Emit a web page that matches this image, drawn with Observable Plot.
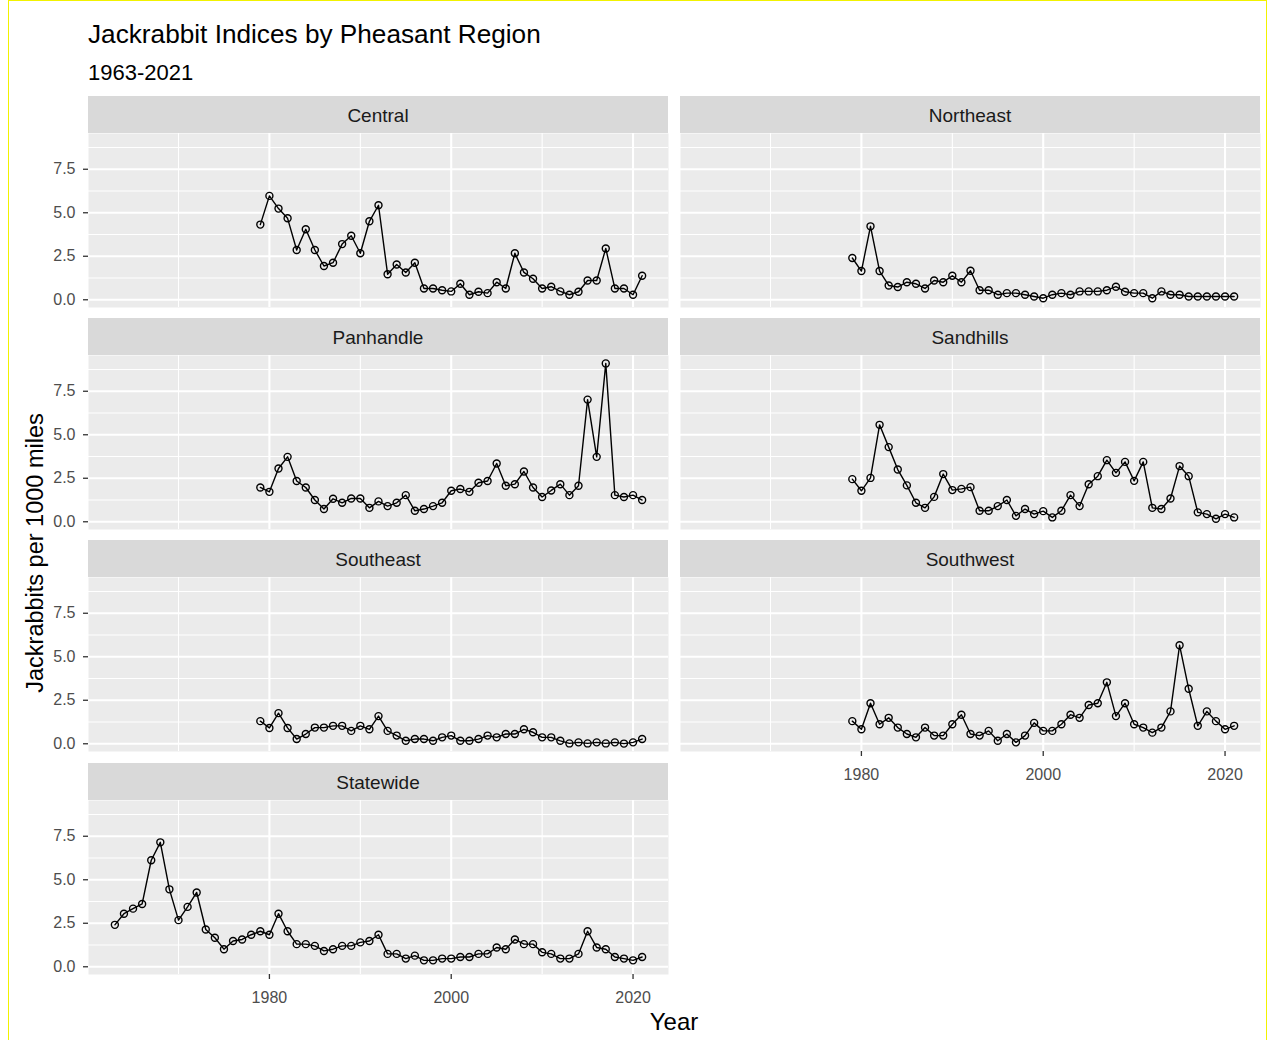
<!DOCTYPE html>
<html>
<head>
<meta charset="utf-8">
<script src="https://cdn.jsdelivr.net/npm/d3@7"></script>
<script src="https://cdn.jsdelivr.net/npm/@observablehq/plot@0.6"></script>
<style>
  body { margin: 0; background: #fff; font-family: "Liberation Sans", Arial, Helvetica, sans-serif; }
  #page { position: relative; width: 1270px; height: 1040px; overflow: hidden; }
  #border { position: absolute; left: 8px; top: 0; width: 1259px; height: 1045px; border: 1px solid #f2f200; box-sizing: border-box; }
  .title { position: absolute; left: 88px; top: 19px; font-size: 26.2px; color: #000; white-space: nowrap; }
  .subtitle { position: absolute; left: 88px; top: 60px; font-size: 22px; color: #000; white-space: nowrap; }
  .strip { position: absolute; background: #D9D9D9; color: #1A1A1A; font-size: 19px; display: flex; align-items: center; justify-content: center; padding-top: 3px; box-sizing: border-box; }
  .ytitle { position: absolute; left: 35px; font-size: 23.5px; color: #000; white-space: nowrap; transform: translate(-50%, -50%) rotate(-90deg); }
  .xtitle { position: absolute; top: 1008px; font-size: 24px; color: #000; white-space: nowrap; transform: translateX(-50%); }
  svg.panel { position: absolute; overflow: visible; }
</style>
</head>
<body>
<div id="page">
  <div id="border"></div>
  <div class="title">Jackrabbit Indices by Pheasant Region</div>
  <div class="subtitle">1963-2021</div>
</div>
<script>
// Jackrabbits seen per 1000 miles of survey route, by pheasant region.
const regionStart = 1979, regionEnd = 2021;
const stateStart = 1963, stateEnd = 2021;

const central = [4.32, 5.97, 5.24, 4.68, 2.86, 4.05, 2.86, 1.94, 2.13, 3.2, 3.68, 2.67, 4.51, 5.43, 1.47,
  2.03, 1.57, 2.13, 0.65, 0.65, 0.55, 0.48, 0.92, 0.29, 0.46, 0.38, 1.01, 0.65, 2.67, 1.57, 1.21,
  0.65, 0.75, 0.48, 0.29, 0.46, 1.11, 1.11, 2.95, 0.65, 0.65, 0.29, 1.38];
const northeast = [2.4, 1.65, 4.22, 1.65, 0.82, 0.73, 1.01, 0.92, 0.65, 1.11, 1.01, 1.38, 1.01, 1.67, 0.55,
  0.55, 0.29, 0.38, 0.38, 0.29, 0.19, 0.09, 0.29, 0.38, 0.29, 0.48, 0.48, 0.48, 0.55, 0.75, 0.46,
  0.38, 0.38, 0.09, 0.48, 0.29, 0.29, 0.19, 0.19, 0.19, 0.19, 0.19, 0.19];
const panhandle = [1.97, 1.72, 3.06, 3.73, 2.34, 1.97, 1.25, 0.73, 1.32, 1.09, 1.34, 1.34, 0.8, 1.17, 0.9,
  1.09, 1.53, 0.63, 0.73, 0.9, 1.09, 1.78, 1.88, 1.72, 2.24, 2.34, 3.35, 2.07, 2.16, 2.89, 1.97,
  1.42, 1.8, 2.16, 1.53, 2.07, 7.02, 3.73, 9.1, 1.53, 1.42, 1.53, 1.25];
const sandhills = [2.45, 1.78, 2.52, 5.57, 4.29, 3.0, 2.09, 1.09, 0.8, 1.43, 2.74, 1.82, 1.89, 1.99, 0.63,
  0.63, 0.9, 1.25, 0.34, 0.73, 0.44, 0.61, 0.25, 0.63, 1.53, 0.9, 2.16, 2.62, 3.54, 2.81, 3.44,
  2.35, 3.44, 0.8, 0.73, 1.34, 3.2, 2.62, 0.54, 0.44, 0.17, 0.44, 0.25];
const southeast = [1.3, 0.91, 1.76, 0.91, 0.27, 0.56, 0.93, 0.93, 1.03, 1.03, 0.74, 1.03, 0.83, 1.59, 0.74,
  0.47, 0.17, 0.27, 0.27, 0.17, 0.37, 0.47, 0.17, 0.17, 0.27, 0.47, 0.37, 0.56, 0.56, 0.83, 0.66,
  0.37, 0.37, 0.17, 0.02, 0.08, 0.02, 0.08, 0.02, 0.08, 0.01, 0.08, 0.27];
const southwest = [1.3, 0.83, 2.33, 1.12, 1.49, 0.93, 0.56, 0.37, 0.93, 0.47, 0.47, 1.12, 1.67, 0.56, 0.47,
  0.74, 0.17, 0.56, 0.08, 0.47, 1.2, 0.74, 0.74, 1.12, 1.67, 1.49, 2.23, 2.33, 3.53, 1.59, 2.33,
  1.12, 0.93, 0.64, 0.93, 1.86, 5.66, 3.16, 1.03, 1.86, 1.3, 0.83, 1.03];
const statewide = [2.41, 3.05, 3.34, 3.61, 6.12, 7.15, 4.45, 2.68, 3.44, 4.27, 2.14, 1.67, 1.01, 1.48, 1.57, 1.84,
  2.04, 1.84, 3.05, 2.04, 1.3, 1.3, 1.2, 0.91, 1.01, 1.2, 1.2, 1.4, 1.48, 1.84, 0.74,
  0.74, 0.47, 0.64, 0.37, 0.37, 0.47, 0.47, 0.56, 0.56, 0.74, 0.74, 1.11, 1.01, 1.57, 1.3, 1.3,
  0.83, 0.74, 0.47, 0.47, 0.74, 2.04, 1.11, 1.01, 0.56, 0.47, 0.37, 0.56];

const regionNames = ["Central", "Northeast", "Panhandle", "Sandhills", "Southeast", "Southwest", "Statewide"];
const regionSeries = [central, northeast, panhandle, sandhills, southeast, southwest, statewide];

const yMajor = [0, 2.5, 5, 7.5];
const yMinor = [1.25, 3.75, 6.25, 8.75];
const xMajor = [1980, 2000, 2020];
const xMinor = [1970, 1990, 2010];

// Long table: one row per region and year.
const rows = regionNames.flatMap((name, k) => {
  const start = name === "Statewide" ? stateStart : regionStart;
  return regionSeries[k].map((value, i) => ({region: name, year: start + i, value}));
});

// Shared scales with a 5% pad on both ends of the data range.
const pad = ([a, b]) => [a - (b - a) * 0.05, b + (b - a) * 0.05];
const xDomain = pad(d3.extent(rows, d => d.year));
const yDomain = pad(d3.extent(rows, d => d.value));

// Layout of the 2-column facet grid.
const panelW = 580, panelH = 174, stripH = 37;
const colX = [88, 680];
const rowTop = [133, 355.2, 577.4, 799.6];

const page = document.getElementById("page");

regionNames.forEach((name, k) => {
  const col = k % 2, row = Math.floor(k / 2);
  const showY = col === 0;
  const showX = name === "Statewide" || name === "Southwest";
  const data = rows.filter(d => d.region === name);
  const marginLeft = showY ? colX[0] : 0;
  const marginBottom = showX ? 36 : 0;

  const marks = [
    Plot.frame({fill: "#EBEBEB"}),
    Plot.gridY(yMinor, {stroke: "white", strokeOpacity: 1, strokeWidth: 1.1}),
    Plot.gridX(xMinor, {stroke: "white", strokeOpacity: 1, strokeWidth: 1.1}),
    Plot.gridY(yMajor, {stroke: "white", strokeOpacity: 1, strokeWidth: 2.1}),
    Plot.gridX(xMajor, {stroke: "white", strokeOpacity: 1, strokeWidth: 2.1}),
    Plot.line(data, {x: "year", y: "value", stroke: "black", strokeWidth: 1.4}),
    Plot.dot(data, {x: "year", y: "value", r: 3.5, stroke: "black", strokeWidth: 1.4, fill: "none"})
  ];
  if (showY) marks.push(Plot.axisY(yMajor, {
    tickFormat: d3.format(".1f"), tickSize: 5, tickPadding: 8, fontSize: 16,
    color: "#4D4D4D", stroke: "#333333", strokeWidth: 1.3, label: null
  }));
  if (showX) marks.push(Plot.axisX(xMajor, {
    tickFormat: d => String(d), tickSize: 5, tickPadding: 12, fontSize: 16,
    color: "#4D4D4D", stroke: "#333333", strokeWidth: 1.3, label: null
  }));

  const svg = Plot.plot({
    width: marginLeft + panelW,
    height: panelH + marginBottom,
    marginLeft, marginRight: 0, marginTop: 0, marginBottom,
    style: {background: "transparent", fontFamily: "Liberation Sans, Arial, sans-serif"},
    x: {domain: xDomain, axis: null},
    y: {domain: yDomain, axis: null},
    marks
  });
  svg.classList.add("panel");
  svg.style.left = (col === 0 ? 0 : colX[1]) + "px";
  svg.style.top = rowTop[row] + "px";
  page.appendChild(svg);

  const strip = document.createElement("div");
  strip.className = "strip";
  strip.textContent = name;
  Object.assign(strip.style, {
    left: colX[col] + "px", top: (rowTop[row] - stripH) + "px",
    width: panelW + "px", height: stripH + "px"
  });
  page.appendChild(strip);
});

const ytitle = document.createElement("div");
ytitle.className = "ytitle";
ytitle.textContent = "Jackrabbits per 1000 miles";
ytitle.style.top = ((rowTop[0] + rowTop[3] + panelH) / 2) + "px";
page.appendChild(ytitle);

const xtitle = document.createElement("div");
xtitle.className = "xtitle";
xtitle.textContent = "Year";
xtitle.style.left = ((colX[0] + colX[1] + panelW) / 2) + "px";
page.appendChild(xtitle);
</script>
</body>
</html>
